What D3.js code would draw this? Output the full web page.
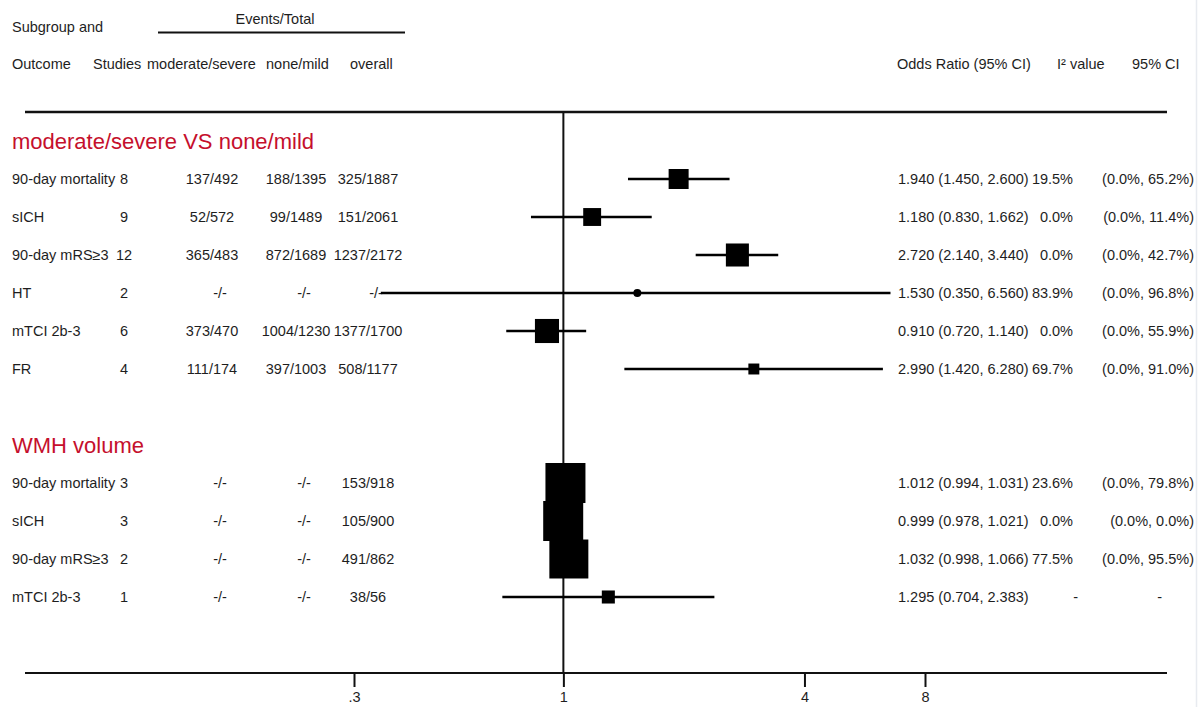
<!DOCTYPE html>
<html>
<head>
<meta charset="utf-8">
<script src="https://cdn.jsdelivr.net/npm/d3@7"></script>
<style>
  html, body { margin: 0; padding: 0; background: #fff; }
  svg { display: block; font-family: "Liberation Sans", Arial, Helvetica, sans-serif; }
</style>
</head>
<body>
<svg id="chart" width="1199" height="707"></svg>
<script>
// ---- data -------------------------------------------------------------
const groups = ["moderate/severe VS none/mild", "WMH volume"];
const groupSlot = [0, 8];

const outcomes = ["90-day mortality", "sICH", "90-day mRS\u22653", "HT", "mTCI 2b-3", "FR",
                  "90-day mortality", "sICH", "90-day mRS\u22653", "mTCI 2b-3"];
const rowSlot = [1, 2, 3, 4, 5, 6, 9, 10, 11, 12];
const studies = [8, 9, 12, 2, 6, 4, 3, 3, 2, 1];
const eventsModSev = ["137/492", "52/572", "365/483", "-/-", "373/470", "111/174", "-/-", "-/-", "-/-", "-/-"];
const eventsNoneMild = ["188/1395", "99/1489", "872/1689", "-/-", "1004/1230", "397/1003", "-/-", "-/-", "-/-", "-/-"];
const eventsOverall = ["325/1887", "151/2061", "1237/2172", "-/-", "1377/1700", "508/1177", "153/918", "105/900", "491/862", "38/56"];
const oddsRatio = [1.940, 1.180, 2.720, 1.530, 0.910, 2.990, 1.012, 0.999, 1.032, 1.295];
const ciLow = [1.450, 0.830, 2.140, 0.350, 0.720, 1.420, 0.994, 0.978, 0.998, 0.704];
const ciHigh = [2.600, 1.662, 3.440, 6.560, 1.140, 6.280, 1.031, 1.021, 1.066, 2.383];
const i2Value = ["19.5%", "0.0%", "0.0%", "83.9%", "0.0%", "69.7%", "23.6%", "0.0%", "77.5%", "-"];
const i2Ci = ["(0.0%, 65.2%)", "(0.0%, 11.4%)", "(0.0%, 42.7%)", "(0.0%, 96.8%)", "(0.0%, 55.9%)",
              "(0.0%, 91.0%)", "(0.0%, 79.8%)", "(0.0%, 0.0%)", "(0.0%, 95.5%)", "-"];
// relative weight of each pooled estimate (drives box area)
const weight = [4.0, 3.2, 5.3, 0, 5.8, 1.2, 16.0, 16.0, 15.2, 1.7];
const xTicks = [0.3, 1, 4, 8];
const xTickLabels = [".3", "1", "4", "8"];

// ---- layout -----------------------------------------------------------
const svg = d3.select("#chart");
const textColor = "#1e1e1e";
const groupColor = "#c50f2c";
const fs = "14.5px";

const x = d3.scaleLog().domain([0.3, 8]).range([354, 925]);
const y = d3.scaleLinear().domain([0, 14]).range([141, 673]);
const box = d3.scaleSqrt().domain([0, 16]).range([0, 40]);

const rows = outcomes.map((o, i) => ({
  outcome: o, slot: rowSlot[i], studies: studies[i],
  ms: eventsModSev[i], nm: eventsNoneMild[i], ov: eventsOverall[i],
  or: oddsRatio[i], lo: ciLow[i], hi: ciHigh[i],
  i2: i2Value[i], i2ci: i2Ci[i], w: weight[i]
}));

// faint frame edge on the right
svg.append("line").attr("x1", 1196.5).attr("x2", 1196.5).attr("y1", 0).attr("y2", 707)
  .attr("stroke", "#e8ebf0").attr("stroke-width", 1.5);

// ---- column headings --------------------------------------------------
const head = svg.append("g").attr("fill", textColor).style("font-size", fs);
head.append("text").attr("x", 12).attr("y", 27).attr("dy", "0.35em").text("Subgroup and");
head.append("text").attr("x", 275).attr("y", 19).attr("dy", "0.35em").attr("text-anchor", "middle").text("Events/Total");
head.append("line").attr("x1", 158).attr("x2", 405).attr("y1", 32.5).attr("y2", 32.5)
  .attr("stroke", "#111").attr("stroke-width", 2.2);
const h2 = [["Outcome", 12], ["Studies", 93], ["moderate/severe", 147], ["none/mild", 266], ["overall", 350],
            ["Odds Ratio (95% CI)", 897], ["I\u00b2 value", 1057], ["95% CI", 1132]];
head.selectAll("text.h2").data(h2).join("text").attr("class", "h2")
  .attr("x", d => d[1]).attr("y", 64).attr("dy", "0.35em").text(d => d[0]);

// ---- rules ------------------------------------------------------------
svg.append("line").attr("x1", 25).attr("x2", 1167).attr("y1", 112).attr("y2", 112)
  .attr("stroke", "#111").attr("stroke-width", 2.5);
svg.append("line").attr("x1", 25).attr("x2", 1167).attr("y1", y(14)).attr("y2", y(14))
  .attr("stroke", "#111").attr("stroke-width", 2.2);
// null line at OR = 1
svg.append("line").attr("x1", x(1)).attr("x2", x(1)).attr("y1", 112).attr("y2", y(14))
  .attr("stroke", "#111").attr("stroke-width", 2);

// ---- subgroup titles --------------------------------------------------
svg.selectAll("text.group").data(groups).join("text").attr("class", "group")
  .attr("x", 12).attr("y", (d, i) => y(groupSlot[i])).attr("dy", "0.35em")
  .attr("fill", groupColor).style("font-size", "22px").text(d => d);

// ---- table text -------------------------------------------------------
const t = svg.append("g").attr("fill", textColor).style("font-size", fs);
const dashShift = s => (s === "-/-" ? 8 : 0);
rows.forEach(r => {
  const yy = y(r.slot);
  t.append("text").attr("x", 12).attr("y", yy).attr("dy", "0.35em").text(r.outcome);
  t.append("text").attr("x", 124).attr("y", yy).attr("dy", "0.35em").attr("text-anchor", "middle").text(r.studies);
  t.append("text").attr("x", 212 + dashShift(r.ms)).attr("y", yy).attr("dy", "0.35em").attr("text-anchor", "middle").text(r.ms);
  t.append("text").attr("x", 296 + dashShift(r.nm)).attr("y", yy).attr("dy", "0.35em").attr("text-anchor", "middle").text(r.nm);
  t.append("text").attr("x", 368 + dashShift(r.ov)).attr("y", yy).attr("dy", "0.35em").attr("text-anchor", "middle").text(r.ov);
  t.append("text").attr("x", 898).attr("y", yy).attr("dy", "0.35em")
    .text(`${r.or.toFixed(3)} (${r.lo.toFixed(3)}, ${r.hi.toFixed(3)})`);
  t.append("text").attr("x", r.i2 === "-" ? 1078 : 1073).attr("y", yy).attr("dy", "0.35em").attr("text-anchor", "end").text(r.i2);
  t.append("text").attr("x", r.i2ci === "-" ? 1162 : 1194).attr("y", yy).attr("dy", "0.35em").attr("text-anchor", "end").text(r.i2ci);
});

// ---- confidence intervals and estimates -------------------------------
const marks = svg.append("g");
marks.selectAll("line.ci").data(rows).join("line").attr("class", "ci")
  .attr("x1", d => x(d.lo)).attr("x2", d => x(d.hi))
  .attr("y1", d => y(d.slot)).attr("y2", d => y(d.slot))
  .attr("stroke", "#000").attr("stroke-width", 2.5);
marks.selectAll("circle.pt").data(rows).join("circle").attr("class", "pt")
  .attr("cx", d => x(d.or)).attr("cy", d => y(d.slot)).attr("r", 4).attr("fill", "#000");
marks.selectAll("rect.box").data(rows.filter(d => d.w > 0)).join("rect").attr("class", "box")
  .attr("x", d => x(d.or) - box(d.w) / 2).attr("y", d => y(d.slot) - box(d.w) / 2)
  .attr("width", d => box(d.w)).attr("height", d => box(d.w)).attr("fill", "#000");

// ---- x axis -----------------------------------------------------------
const axis = d3.axisBottom(x).tickValues(xTicks)
  .tickFormat((d, i) => xTickLabels[i]).tickSize(14).tickPadding(5);
const ax = svg.append("g").attr("transform", `translate(0,${y(14)})`).call(axis);
ax.select(".domain").remove();
ax.selectAll(".tick line").attr("stroke", "#111").attr("stroke-width", 2);
ax.selectAll(".tick text").attr("fill", textColor).style("font-size", fs)
  .style("font-family", "'Liberation Sans', Arial, sans-serif");
</script>
</body>
</html>
